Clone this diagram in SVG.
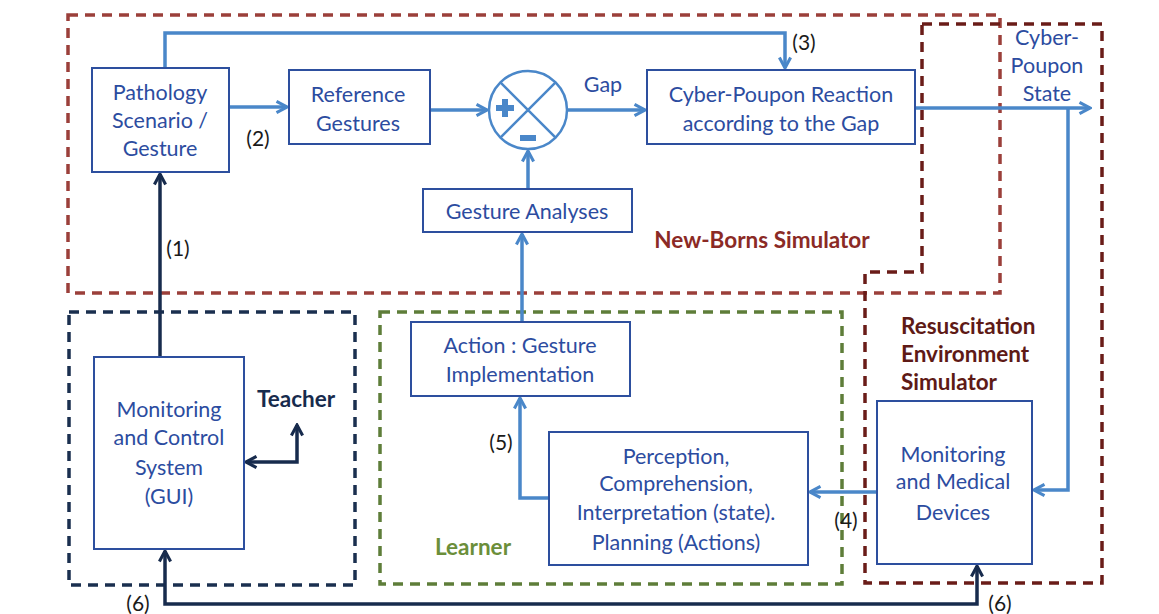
<svg xmlns="http://www.w3.org/2000/svg" width="1159" height="614" viewBox="0 0 1159 614">
<style>
.box{fill:#fff;stroke:#2d4f9e;stroke-width:2}
.t{font-family:Lato,"Liberation Sans",sans-serif;font-size:21.5px;fill:#2c4ca0;text-anchor:middle}
.lbl{font-family:Lato,"Liberation Sans",sans-serif;font-size:21px;fill:#1a1a1a;text-anchor:middle}
.b{font-family:Lato,"Liberation Sans",sans-serif;font-size:22.5px;font-weight:bold}
.c{fill:none;stroke:#4a87c9;stroke-width:3.5}
.cd{fill:none;stroke:#172b4d;stroke-width:3.5}
.grp{fill:none;stroke-width:3.5;stroke-dasharray:10 7}
</style>
<defs>
<marker id="a" viewBox="0 0 10 10" refX="8.5" refY="5" markerWidth="4" markerHeight="4" orient="auto" markerUnits="strokeWidth">
<path d="M1,1 L8.5,5 L1,9" fill="none" stroke="#4a87c9" stroke-width="2.2"/>
</marker>
<marker id="ad" viewBox="0 0 10 10" refX="8.5" refY="5" markerWidth="4" markerHeight="4" orient="auto" markerUnits="strokeWidth">
<path d="M1,1 L8.5,5 L1,9" fill="none" stroke="#172b4d" stroke-width="2.2"/>
</marker>
<marker id="ads" viewBox="0 0 10 10" refX="8.5" refY="5" markerWidth="4" markerHeight="4" orient="auto-start-reverse" markerUnits="strokeWidth">
<path d="M1,1 L8.5,5 L1,9" fill="none" stroke="#172b4d" stroke-width="2.2"/>
</marker>
</defs>
<rect width="1159" height="614" fill="#fff"/>

<g id="groups">
<path class="grp" stroke="#9b3f3a" d="M68,15 H1000 V293 H68 Z"/>
<path class="grp" stroke="#6a1c18" d="M922,24 H1102 V583 H865 V272 H922 Z"/>
<path class="grp" stroke="#1a2f4f" d="M69,312 H355 V585 H69 Z"/>
<path class="grp" stroke="#5e7d39" d="M380,312 H842 V584 H380 Z"/>
<text x="762" y="248" class="b" style="fill:#8b2a25" text-anchor="middle">New-Borns Simulator</text>
<g class="b" style="fill:#5e1a16">
<text x="901" y="334">Resuscitation</text>
<text x="901" y="362">Environment</text>
<text x="901" y="390">Simulator</text>
</g>
<text x="435" y="555" class="b" style="fill:#6b8e3a">Learner</text>
<text x="296" y="407" class="b" style="fill:#172b4d" text-anchor="middle">Teacher</text>
<g class="t">
<text x="1047" y="45">Cyber-</text>
<text x="1047" y="73">Poupon</text>
<text x="1047" y="101">State</text>
</g>
<text x="603" y="92" class="t">Gap</text>
</g>

<g id="connectors">
<path class="c" d="M165,68 V33 H785 V68" marker-end="url(#a)"/>
<path class="c" d="M229,107 H287" marker-end="url(#a)"/>
<path class="c" d="M430,110 H487" marker-end="url(#a)"/>
<path class="c" d="M567,110 H645" marker-end="url(#a)"/>
<path class="c" d="M528,189 V151" marker-end="url(#a)"/>
<path class="c" d="M522,322 V234" marker-end="url(#a)"/>
<path class="c" d="M915,108 H1090" marker-end="url(#a)"/>
<path class="c" d="M1068,108 V490 H1034" marker-end="url(#a)"/>
<path class="c" d="M877,492 H810" marker-end="url(#a)"/>
<path class="c" d="M549,498 H520 V398" marker-end="url(#a)"/>
<path class="cd" d="M160,357 V174" marker-end="url(#ad)"/>
<path class="cd" d="M246,462 H297 V425" marker-end="url(#ads)" marker-start="url(#ads)"/>
<path class="cd" d="M165,551 V604 H977 V566" marker-end="url(#ads)" marker-start="url(#ads)"/>
<text class="lbl" x="258" y="146">(2)</text>
<text class="lbl" x="804" y="50">(3)</text>
<text class="lbl" x="178" y="256">(1)</text>
<text class="lbl" x="501" y="450">(5)</text>
<text class="lbl" x="846" y="528">(4)</text>
<text class="lbl" x="138" y="611">(6)</text>
<text class="lbl" x="1000" y="611">(6)</text>
</g>

<g id="sum">
<circle cx="528" cy="110" r="39" fill="#fff" stroke="#4a87c9" stroke-width="2.5"/>
<path d="M500.4,82.4 L555.6,137.6 M555.6,82.4 L500.4,137.6" stroke="#4a87c9" stroke-width="2.5"/>
<path d="M505,99 V117 M496,108 H514" stroke="#4a87c9" stroke-width="6"/>
<path d="M520,138 H536" stroke="#4a87c9" stroke-width="6"/>
</g>

<g id="pathology">
<rect class="box" x="92" y="68" width="137" height="104"/>
<text class="t" x="160" y="100">Pathology</text>
<text class="t" x="160" y="128">Scenario /</text>
<text class="t" x="160" y="156">Gesture</text>
</g>
<g id="reference">
<rect class="box" x="289" y="70" width="141" height="74"/>
<text class="t" x="358" y="102">Reference</text>
<text class="t" x="358" y="131">Gestures</text>
</g>
<g id="reaction">
<rect class="box" x="647" y="70" width="268" height="74"/>
<text class="t" x="781" y="102">Cyber-Poupon Reaction</text>
<text class="t" x="781" y="131">according to the Gap</text>
</g>
<g id="analyses">
<rect class="box" x="423" y="189" width="209" height="43"/>
<text class="t" x="527" y="219">Gesture Analyses</text>
</g>
<g id="action">
<rect class="box" x="411" y="322" width="219" height="74"/>
<text class="t" x="520" y="353">Action : Gesture</text>
<text class="t" x="520" y="382">Implementation</text>
</g>
<g id="perception">
<rect class="box" x="549" y="432" width="259" height="133"/>
<text class="t" x="676" y="464">Perception,</text>
<text class="t" x="676" y="491">Comprehension,</text>
<text class="t" x="676" y="520">Interpretation (state).</text>
<text class="t" x="676" y="550">Planning (Actions)</text>
</g>
<g id="gui">
<rect class="box" x="94" y="357" width="150" height="192"/>
<text class="t" x="169" y="417">Monitoring</text>
<text class="t" x="169" y="445">and Control</text>
<text class="t" x="169" y="475">System</text>
<text class="t" x="169" y="504">(GUI)</text>
</g>
<g id="devices">
<rect class="box" x="877" y="401" width="155" height="163"/>
<text class="t" x="953" y="462">Monitoring</text>
<text class="t" x="953" y="489">and Medical</text>
<text class="t" x="953" y="520">Devices</text>
</g>
</svg>
